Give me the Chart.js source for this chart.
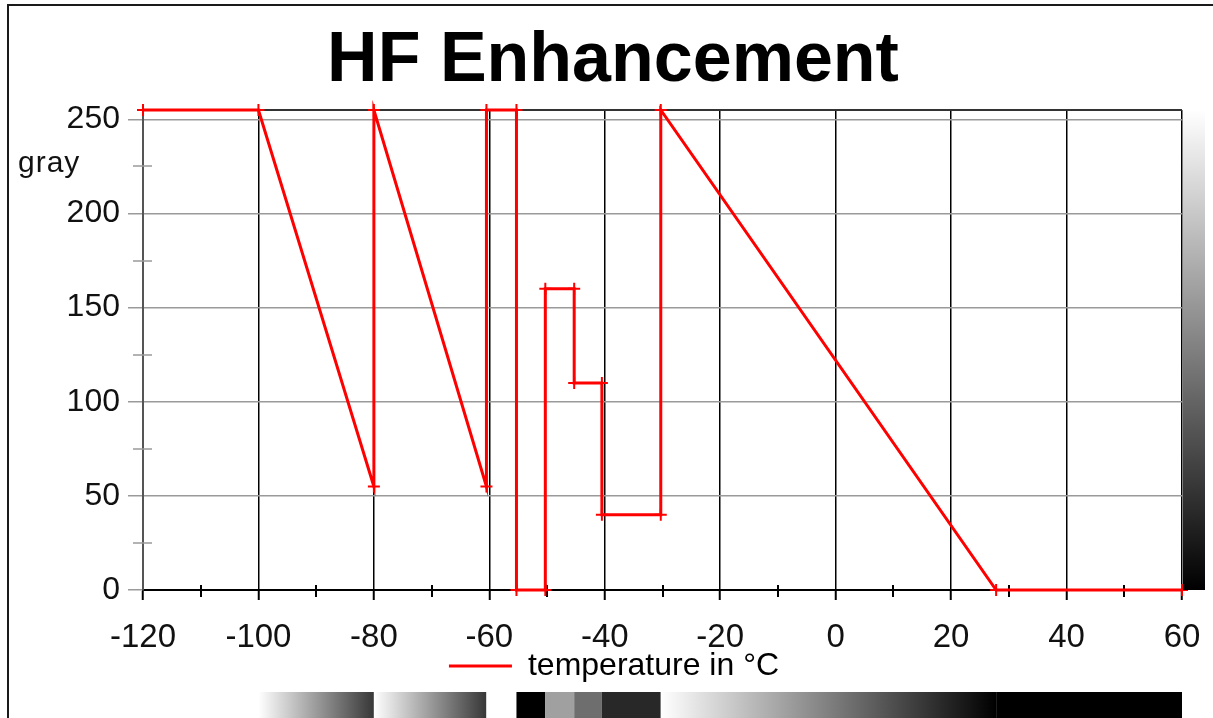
<!DOCTYPE html>
<html><head><meta charset="utf-8">
<style>html,body{margin:0;padding:0;background:#fff;overflow:hidden}</style>
<script src="https://cdn.jsdelivr.net/npm/chart.js@4/dist/chart.umd.min.js"></script>
</head><body>
<canvas id="c" width="1213" height="718" style="display:block;width:1213px;height:718px"></canvas>
<script>
const chartTitle = 'HF Enhancement';
const yAxisTitle = 'gray';
const seriesLabel = 'temperature in °C';
const temperatures = [-120, -100, -80, -80, -60.5, -60.5, -55.3, -55.3, -50.3, -50.3, -45.3, -45.3, -40.5, -40.5, -30.3, -30.3, 27.8, 60];
const grayValues   = [255, 255, 55, 255, 55, 255, 255, 0, 0, 160, 160, 110, 110, 40, 40, 255, 0, 0];
const xTicks = [-120, -100, -80, -60, -40, -20, 0, 20, 40, 60];
const xMinorTicks = [-110, -90, -70, -50, -30, -10, 10, 30, 50];
const yTicks = [0, 50, 100, 150, 200, 250];
const yMinorTicks = [25, 75, 125, 175, 225];
const yMin = 0, yMax = 255, xMin = -120, xMax = 60;

const FONT = "'Liberation Sans', Arial, Helvetica, sans-serif";
const grayCss = v => { const g = Math.round(v); return `rgb(${g},${g},${g})`; };

const decor = {
  id: 'decor',
  afterLayout(chart) {
    const lg = chart.legend;
    lg.left += 23; lg.right += 23;
    const tb = chart.titleBlock;
    if (tb) { tb.left += 22; tb.right += 22; }
  },
  beforeDraw(chart) {
    const ctx = chart.ctx;
    ctx.save();
    ctx.fillStyle = '#fff';
    ctx.fillRect(0, 0, chart.width, chart.height);
    ctx.fillStyle = '#1a1a1a';
    ctx.fillRect(7, 4, 2, chart.height - 4);
    ctx.fillRect(7, 4, chart.width - 7, 2);
    ctx.restore();
  },
  beforeDatasetsDraw(chart) {
    const ctx = chart.ctx, a = chart.chartArea;
    const xs = chart.scales.x, ys = chart.scales.y;
    ctx.save();
    ctx.strokeStyle = '#333'; ctx.lineWidth = 2;
    ctx.beginPath(); ctx.moveTo(a.left, a.top); ctx.lineTo(a.right, a.top); ctx.stroke();
    ctx.strokeStyle = '#000'; ctx.lineWidth = 2;
    xMinorTicks.forEach(v => {
      const px = Math.round(xs.getPixelForValue(v));
      ctx.beginPath(); ctx.moveTo(px, a.bottom - 5); ctx.lineTo(px, a.bottom + 7); ctx.stroke();
    });
    ctx.strokeStyle = '#9a9a9a'; ctx.lineWidth = 1.5;
    yMinorTicks.forEach(v => {
      const py = Math.round(ys.getPixelForValue(v));
      ctx.beginPath(); ctx.moveTo(a.left - 10, py); ctx.lineTo(a.left + 9, py); ctx.stroke();
    });
    ctx.fillStyle = '#111';
    ctx.font = `30px ${FONT}`;
    ctx.textBaseline = 'alphabetic';
    ctx.textAlign = 'left';
    try { ctx.letterSpacing = '1px'; } catch (e) {}
    ctx.fillText(yAxisTitle, 18, 172);
    ctx.restore();
  },
  afterDraw(chart) {
    const ctx = chart.ctx, a = chart.chartArea;
    const xs = chart.scales.x, ys = chart.scales.y;
    ctx.save();
    const yTop = ys.getPixelForValue(yMax), yBot = ys.getPixelForValue(yMin);
    const gv = ctx.createLinearGradient(0, yTop, 0, yBot);
    gv.addColorStop(0, grayCss(yMax));
    gv.addColorStop(1, grayCss(yMin));
    ctx.fillStyle = gv;
    ctx.fillRect(a.right + 1, yTop + 1, 22, yBot - yTop - 1);
    const top = chart.legend.bottom, bottom = chart.height;
    for (let i = 0; i < temperatures.length - 1; i++) {
      const x1 = xs.getPixelForValue(temperatures[i]);
      const x2 = xs.getPixelForValue(temperatures[i + 1]);
      if (x2 - x1 < 0.5) continue;
      const g = ctx.createLinearGradient(x1, 0, x2, 0);
      g.addColorStop(0, grayCss(grayValues[i]));
      g.addColorStop(1, grayCss(grayValues[i + 1]));
      ctx.fillStyle = g;
      ctx.fillRect(x1, top, x2 - x1, bottom - top);
    }
    ctx.restore();
  }
};

new Chart(document.getElementById('c'), {
  type: 'line',
  data: {
    datasets: [{
      label: seriesLabel,
      data: temperatures.map((t, i) => ({ x: t, y: grayValues[i] })),
      borderColor: '#ff0000',
      backgroundColor: '#ff0000',
      borderWidth: 3,
      pointStyle: 'cross',
      pointRadius: 6,
      pointBorderWidth: 2,
      pointBorderColor: '#ff0000',
      tension: 0,
      fill: false,
      clip: 12
    }]
  },
  options: {
    responsive: false,
    devicePixelRatio: 1,
    animation: false,
    layout: { padding: { top: 0, left: 0, right: 31, bottom: 26 } },
    scales: {
      x: {
        type: 'linear', min: xMin, max: xMax,
        afterBuildTicks: s => { s.ticks = xTicks.map(v => ({ value: v })); },
        afterFit: s => { s.height = 60; },
        ticks: { font: { family: FONT, size: 33, lineHeight: 2.29 }, color: '#111', padding: 0, maxRotation: 0, autoSkip: false },
        grid: {
          color: c => (c.tick && c.tick.value === xMin) ? 'rgba(0,0,0,0)' : '#000',
          lineWidth: 1.5, tickLength: 10, tickColor: '#000', tickWidth: 2
        },
        border: { color: '#000', width: 2 }
      },
      y: {
        type: 'linear', min: yMin, max: yMax,
        afterBuildTicks: s => { s.ticks = yTicks.map(v => ({ value: v })); },
        afterFit: s => { s.width = 143; },
        ticks: { font: { family: FONT, size: 32 }, color: '#111', padding: 8 },
        grid: { color: '#9a9a9a', lineWidth: 1.5, tickLength: 15, tickColor: '#9a9a9a' },
        border: { color: '#555', width: 2 }
      }
    },
    plugins: {
      title: {
        display: true, text: chartTitle, color: '#000',
        font: { family: FONT, size: 70, weight: 'bold', lineHeight: 1 },
        padding: { top: 27, bottom: 13 }
      },
      legend: {
        display: true, position: 'bottom',
        labels: {
          boxWidth: 63, boxHeight: 3, padding: 0, color: '#111',
          font: { family: FONT, size: 32 },
          generateLabels: () => [{ text: seriesLabel, fillStyle: '#ff0000', strokeStyle: '#ff0000', lineWidth: 0, hidden: false, datasetIndex: 0 }]
        }
      },
      tooltip: { enabled: false }
    }
  },
  plugins: [decor]
});
</script>
</body></html>
